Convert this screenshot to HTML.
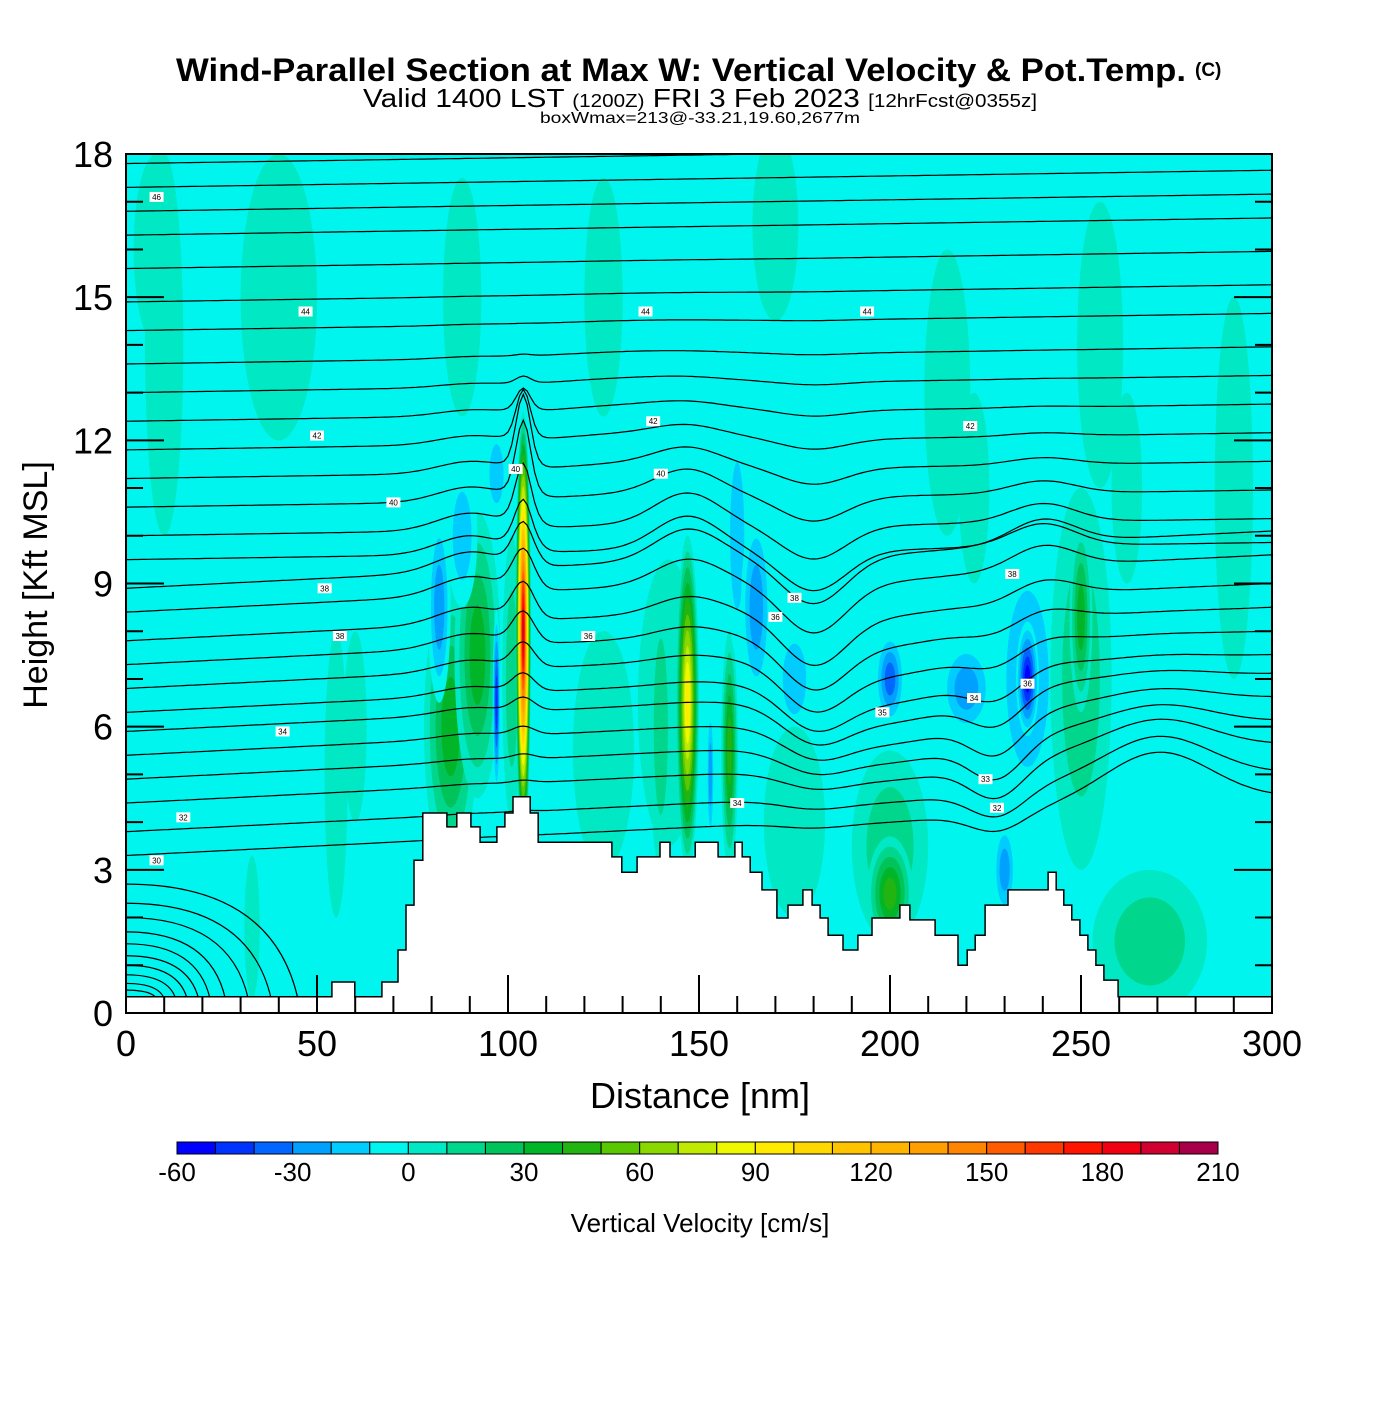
<!DOCTYPE html>
<html><head><meta charset="utf-8"><style>
html,body{margin:0;padding:0;background:#fff;}
svg text{font-family:"Liberation Sans",sans-serif;}
</style></head><body>
<svg id="chart" width="1400" height="1400" viewBox="0 0 1400 1400" xmlns="http://www.w3.org/2000/svg">
<defs><clipPath id="plotclip"><rect x="126" y="154" width="1146" height="859"/></clipPath></defs>
<text x="176" y="81" font-size="32" font-weight="bold" textLength="1010" lengthAdjust="spacingAndGlyphs">Wind-Parallel Section at Max W: Vertical Velocity &amp; Pot.Temp.</text>
<text x="1195" y="76" font-size="19" font-weight="bold">(C)</text>
<text x="363" y="107" font-size="26" textLength="674" lengthAdjust="spacingAndGlyphs">Valid 1400 LST <tspan font-size="18">(1200Z)</tspan> FRI 3 Feb 2023 <tspan font-size="18">[12hrFcst@0355z]</tspan></text>
<text x="540" y="123" font-size="16" textLength="320" lengthAdjust="spacingAndGlyphs">boxWmax=213@-33.21,19.60,2677m</text>
<g id="plot" clip-path="url(#plotclip)"></g>
<g id="axes"></g>
<g id="cbar"></g>
<text x="700" y="1108" text-anchor="middle" font-size="36">Distance [nm]</text>
<text transform="translate(47,585) rotate(-90)" text-anchor="middle" font-size="34">Height [Kft MSL]</text>
<text x="700" y="1232" text-anchor="middle" font-size="26">Vertical Velocity [cm/s]</text>
</svg>
<script>
// ---- data ----
const binStarts = [-60,-50,-40,-30,-20,-10,0,10,20,30,40,50,60,70,80,90,100,110,120,130,140,150,160,170,180,190,200];
const binColors = ["#0000ff","#0033ff","#0066ff","#00a0ff","#00ccff","#00f5ee","#00e8c4","#00d68c","#00c45a","#00b628","#22b410","#5ac800","#8ad800","#c0ea00","#f0f800","#ffea00","#ffd800","#ffc400","#ffb400","#ffa000","#ff8400","#ff5c00","#ff3800","#ff1400","#f00010","#d00030","#a80048"];
const cbTicks = [-60,-30,0,30,60,90,120,150,180,210];
const xTicks = [0,50,100,150,200,250,300];
const yTicks = [0,3,6,9,12,15,18];
// velocity cells: x(nm), z(kft), half-width(nm), half-height(kft), value(cm/s)
const cellX = [10,40,88,125,170,215,222,255,262,290,55,33,22,60,142,85,92,101,104,97,82,88,97,147,140,158,153,160,165,175,200,200,236,236,200,220,250,250,268,230,125,175,8];
const cellZ = [14,15,15,15,16.5,13,11,14,11,11,5,1.8,1.2,6,6.5,6,7.5,7,8,6.5,8.5,10,11.3,6.5,6,5.5,5,10,8.5,7,3.5,2.5,7,7,7,6.8,7,8.3,1.5,3,5.5,4,16];
const cellW = [5,10,5,5,6,6,4,6,4,5,3,2,1.3,3,8,7,6,2.5,2,1,3,4,3,3,3,2.2,1,3,4,5,10,6,9,3,4,7,8,3,15,3,8,8,6];
const cellH = [4,3,2.5,2.5,2,3,2,3,2,4,3,1.5,1,2,3,3,3,3,4.6,2,2,1.5,1,3.5,3,2.5,1.5,2.5,2,1.2,2,1.2,3,1.2,1,1,4,2,1.5,1,2.5,2,2];
const cellV = [5,5,5,5,5,5,5,5,5,5,5,5,-15,5,5,30,30,10,190,-50,-30,-20,-20,90,10,40,-30,-20,-30,-20,10,40,-20,-60,-40,-30,10,30,10,-30,5,5,5];
// terrain step function: start distance (nm), height (kft)
const terrX = [0,53.9,59.9,67,71.2,73.3,75.4,77.7,84,86.6,90.3,92.7,97.1,99.2,101.3,105.8,107.9,123,127.2,129.8,133.8,139.8,142.4,149,155,159.4,161.3,163.4,166.5,170.4,173.3,177.2,179.6,181.7,183.8,187.7,191.6,195.3,202.6,205.2,211.8,217.8,220.2,222.3,224.9,230.9,241.4,243.5,245.5,247.6,249.7,251.8,253.9,256,259.7];
const terrZ = [0.34,0.65,0.34,0.65,1.32,2.26,3.2,4.19,3.9,4.19,3.9,3.58,3.9,4.19,4.53,4.19,3.58,3.58,3.27,2.95,3.27,3.58,3.27,3.58,3.27,3.58,3.27,2.95,2.58,1.99,2.26,2.58,2.26,1.99,1.63,1.32,1.63,1.99,2.26,1.95,1.63,1.0,1.32,1.63,2.26,2.58,2.95,2.58,2.26,1.95,1.63,1.32,1.0,0.69,0.34];
// isentrope base heights at x=0 (kft)
const thetaZ = [3.3,3.8,4.4,4.9,5.4,5.9,6.3,6.8,7.3,7.8,8.4,8.9,9.5,10.0,10.6,11.2,11.8,12.4,13.0,13.6,14.3,14.9,15.6,16.3,16.8,17.3,17.8];
// displacement features: x0, z0, wx, wz, amp(kft)
const dispX = [104,104,90,147,180,200,228,240,270,135];
const dispZ = [11,8.5,9,9.5,8,6,5,9,2.5,12];
const dispWX = [2.5,4,12,12,12,25,10,12,20,30];
const dispWZ = [1.3,2.5,3,2,3,2,2,2,2.5,2];
const dispA = [1.3,0.8,0.4,0.7,-1.1,-0.6,-0.8,0.5,1.2,0.2];
// low-level isentropes near left edge: start height, end distance
const lowZ = [2.7,2.3,2.0,1.7,1.45,1.2,1.0,0.8,0.62,0.48];
const lowEnd = [45,38,32,26,22,19,16,13,10,8];
const labelX = [8,47,136,194,50,138,221,102,140,70,52,56,41,15,8,175,170,232,198,222,236,121,160,225,228];
const labelZ = [17.1,14.7,14.7,14.7,12.1,12.4,12.3,11.4,11.3,10.7,8.9,7.9,5.9,4.1,3.2,8.7,8.3,9.2,6.3,6.6,6.9,7.9,4.4,4.9,4.3];
const labelT = ["46","44","44","44","42","42","42","40","40","40","38","38","34","32","30","38","36","38","35","34","36","36","34","33","32"];

// ---- axes funcs ----
const X0=126,X1=1272,Y0=1013,Y1=154;
const sx = d => X0 + (d/300)*(X1-X0);
const sy = z => Y0 - (z/18)*(Y0-Y1);
const NS="http://www.w3.org/2000/svg";
function mk(tag, attrs, parent){const e=document.createElementNS(NS,tag);for(const k in attrs)e.setAttribute(k,attrs[k]);parent.appendChild(e);return e;}
function colorFor(v){let i=0;for(let k=0;k<binStarts.length;k++){if(v>=binStarts[k])i=k;}return binColors[i];}
const plot=document.getElementById('plot');
const bg=mk('rect',{x:X0,y:Y1,width:X1-X0,height:Y0-Y1,fill:"#00f5ee"},plot);



// velocity cells
for(let c=0;c<cellX.length;c++){
  const v=cellV[c];
  const levels=[];
  if(v>=0){for(let L=0;L<=v;L+=10)levels.push(L);} else {for(let L=-10;L>=v;L-=10)levels.push(L);}
  const g=mk('g',{},plot);
  
  
  const n=levels.length;
  levels.forEach((L,i)=>{
    const s=1-i/(n+0.6);
    const rx=(sx(cellW[c])-sx(0))*s, ry=(sy(0)-sy(cellH[c]))*s;
    mk('ellipse',{cx:sx(cellX[c]),cy:sy(cellZ[c]),rx:rx,ry:ry,fill:colorFor(L<0?L+0.5:L)},g);
  });
}

// isentropes
function disp(x,z){let d=0;for(let k=0;k<dispX.length;k++){d+=dispA[k]*Math.exp(-Math.pow((x-dispX[k])/dispWX[k],2)-Math.pow((z-dispZ[k])/dispWZ[k],2));}return d;}
const lines=mk('g',{fill:"none",stroke:"#000","stroke-width":1.2},plot);


thetaZ.forEach(z0=>{
  let d="";
  for(let x=0;x<=300;x+=1){
    const z=z0+0.004*x*(z0<9?1:0.3)+disp(x,z0);
    d+=(x?"L":"M")+sx(x).toFixed(1)+","+sy(z).toFixed(1);
  }
  const p=mk('path',{d:d},lines);
  
  
});
lowZ.forEach((z0,i)=>{
  const xe=lowEnd[i];
  const p=mk('path',{d:`M${sx(0)},${sy(z0)} Q${sx(xe*0.85)},${sy(z0)} ${sx(xe)},${sy(0.3)}`},lines);
  
  
});

// terrain
let td=`M${sx(0)},${sy(0)}`;
for(let i=0;i<terrX.length;i++){
  const xe=i+1<terrX.length?terrX[i+1]:300;
  td+=`L${sx(terrX[i]).toFixed(1)},${sy(terrZ[i]).toFixed(1)}L${sx(xe).toFixed(1)},${sy(terrZ[i]).toFixed(1)}`;
}
td+=`L${sx(300)},${sy(0)}Z`;
const terr=mk('path',{d:td,fill:"#fff",stroke:"#000","stroke-width":1.5},plot);



// labels
labelX.forEach((x,i)=>{
  const g=mk('g',{},plot);
  
  
  mk('rect',{x:sx(x)-7,y:sy(labelZ[i])-5,width:14,height:10,fill:"#fff"},g);
  const t=mk('text',{x:sx(x),y:sy(labelZ[i])+3,"font-size":8,"text-anchor":"middle"},g);
  t.textContent=labelT[i];
});

// axes
const ax=document.getElementById('axes');
mk('rect',{x:X0,y:Y1,width:X1-X0,height:Y0-Y1,fill:"none",stroke:"#000","stroke-width":2},ax);
for(let v=0;v<=300;v+=10){
  const maj=v%50===0, L=maj?38:17;
  mk('line',{x1:sx(v),y1:Y0,x2:sx(v),y2:Y0-L,stroke:"#000","stroke-width":2},ax);
}
for(let v=0;v<=18;v+=1){
  const maj=v%3===0, L=maj?38:17;
  mk('line',{x1:X0,y1:sy(v),x2:X0+L,y2:sy(v),stroke:"#000","stroke-width":2},ax);
  mk('line',{x1:X1,y1:sy(v),x2:X1-L,y2:sy(v),stroke:"#000","stroke-width":2},ax);
}
xTicks.forEach(v=>{
  const t=mk('text',{x:sx(v),y:1056,"font-size":36,"text-anchor":"middle"},ax);
  
  
  t.textContent=v;
});
yTicks.forEach(v=>{
  const t=mk('text',{x:113,y:sy(v)+13,"font-size":36,"text-anchor":"end"},ax);
  
  
  t.textContent=v;
});

// colorbar
const cb=document.getElementById('cbar');
const CB0=177,CB1=1218,cw=(CB1-CB0)/binColors.length;
binColors.forEach((c,i)=>{
  const r=mk('rect',{x:CB0+i*cw,y:1142,width:cw,height:12,fill:c,stroke:"#000","stroke-width":1},cb);
  
  
});
cbTicks.forEach(v=>{
  const t=mk('text',{x:CB0+(v+60)/10*cw,y:1181,"font-size":26,"text-anchor":"middle"},cb);
  
  
  t.textContent=v;
});
</script>
</body></html>
